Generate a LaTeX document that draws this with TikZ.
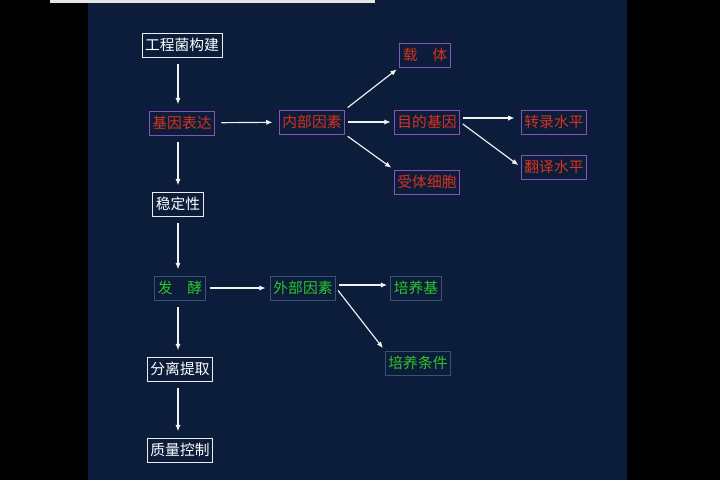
\documentclass[tikz,border=0pt]{standalone}
\usepackage{fontspec}
\setmainfont{Noto Sans CJK SC}
\usetikzlibrary{arrows.meta}
\definecolor{navy}{HTML}{0B1D3A}
\definecolor{redtext}{HTML}{D8321E}
\definecolor{greentext}{HTML}{2FC42A}
\definecolor{purpleline}{HTML}{8A52B8}
\definecolor{greyline}{HTML}{3A5272}
\tikzset{
  whitebox/.style={draw=white!85!gray, text=white, line width=0.8pt, inner sep=3pt, minimum height=0.8cm, font=\fontsize{14}{16}\selectfont},
  redbox/.style={draw=purpleline, text=redtext, line width=0.8pt, inner sep=3pt, minimum height=0.8cm, font=\fontsize{14}{16}\selectfont},
  greenbox/.style={draw=greyline, text=greentext, line width=0.8pt, inner sep=3pt, minimum height=0.8cm, font=\fontsize{14}{16}\selectfont},
  flow/.style={-{Latex[length=6pt,width=5pt]}, white!90!gray, line width=1.1pt}
}
\begin{document}
\begin{tikzpicture}[x=1cm/30,y=-1cm/30]
  \useasboundingbox (0,0) rectangle (720,480);
  \fill[black] (0,0) rectangle (720,480);
  \fill[navy] (88,0) rectangle (627,480);
  \fill[white!80!gray] (50,0) rectangle (375,3);

  % main column
  \node[whitebox, minimum width=85/30 cm] (build) at (182,45) {工程菌构建};
  \node[redbox, minimum width=78/30 cm] (express) at (182,123) {基因表达};
  \node[whitebox, minimum width=68/30 cm] (stable) at (178,204) {稳定性};
  \node[greenbox, minimum width=72/30 cm] (ferment) at (180,288) {发\quad 酵};
  \node[whitebox, minimum width=74/30 cm] (separate) at (180,369) {分离提取};
  \node[whitebox, minimum width=74/30 cm] (quality) at (180,450) {质量控制};

  % internal factors
  \node[redbox, minimum width=72/30 cm] (inner) at (312,122) {内部因素};
  \node[redbox, minimum width=68/30 cm] (vector) at (425,55) {载\quad 体};
  \node[redbox, minimum width=72/30 cm] (gene) at (427,122) {目的基因};
  \node[redbox, minimum width=72/30 cm] (host) at (427,182) {受体细胞};
  \node[redbox, minimum width=72/30 cm] (transcr) at (554,122) {转录水平};
  \node[redbox, minimum width=72/30 cm] (transl) at (554,167) {翻译水平};

  % external factors
  \node[greenbox, minimum width=73/30 cm] (outer) at (303,288) {外部因素};
  \node[greenbox, minimum width=68/30 cm] (medium) at (416,288) {培养基};
  \node[greenbox, minimum width=73/30 cm] (cond) at (418,363) {培养条件};

  \foreach \a/\b in {build/express, express/stable, stable/ferment, ferment/separate, separate/quality}
    \draw[flow, shorten <=6pt, shorten >=6pt] (\a.south -| 178,0) -- (\b.north -| 178,0);
  \draw[flow, shorten <=6pt, shorten >=6pt] (express) -- (inner);
  \draw[flow, shorten <=3pt, shorten >=3pt] (inner) -- (gene);
  \draw[flow, shorten <=3pt, shorten >=3pt] (inner.north east) -- (vector.south west);
  \draw[flow, shorten <=3pt, shorten >=3pt] (inner.south east) -- (host.north west);
  \draw[flow, shorten <=3pt, shorten >=6pt] (gene.east) ++(0,-4) -- (transcr.west |- 0,118);
  \draw[flow, shorten <=3pt, shorten >=3pt] (gene.east) -- (transl.west);
  \draw[flow, shorten <=4pt, shorten >=4pt] (ferment) -- (outer);
  \draw[flow, shorten <=3pt, shorten >=3pt] (outer.east) ++(0,-3) -- (medium.west |- 0,285);
  \draw[flow, shorten <=3pt, shorten >=3pt] (outer.east) -- (cond.north west);
\end{tikzpicture}
\end{document}
